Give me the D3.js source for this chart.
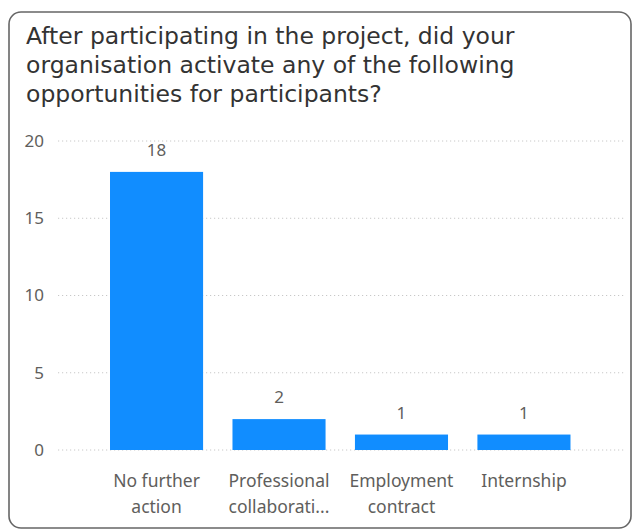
<!DOCTYPE html>
<html>
<head>
<meta charset="utf-8">
<script src="https://cdn.jsdelivr.net/npm/d3@7"></script>
<style>
  body { margin: 0; background: #fff; }
  svg { display: block; }
</style>
</head>
<body>
<div id="chart"></div>
<script>
// dados do grafico
var categorias = ["No further action", "Professional collaboration", "Employment contract", "Internship"];
var rotulos = [["No further", "action"], ["Professional", "collaborati..."], ["Employment", "contract"], ["Internship"]];
var valores = [18, 2, 1, 1];
var ticksY = [0, 5, 10, 15, 20];
var tituloLinhas = ["After participating in the project, did your",
                    "organisation activate any of the following",
                    "opportunities for participants?"];

var largura = 634, altura = 530;

var svg = d3.select("#chart").append("svg")
  .attr("width", largura)
  .attr("height", altura);

// moldura do cartao
svg.append("rect")
  .attr("x", 9).attr("y", 12)
  .attr("width", 622).attr("height", 516)
  .attr("rx", 12).attr("ry", 12)
  .attr("fill", "#fff")
  .attr("stroke", "#666")
  .attr("stroke-width", 1.6);

// titulo
svg.append("text")
  .attr("font-family", "'DejaVu Sans', sans-serif")
  .attr("font-size", 23.5)
  .attr("fill", "#333")
  .selectAll("tspan")
  .data(tituloLinhas)
  .enter()
  .append("tspan")
  .attr("x", 26)
  .attr("y", function(d, i) { return 44 + i * 29; })
  .text(function(d) { return d; });

// escalas
var yScale = d3.scaleLinear().domain([0, 20]).range([450, 141]);
var xScale = d3.scaleBand()
  .domain(categorias)
  .range([98.5, 582])
  .paddingInner(0.24)
  .paddingOuter(0.094);

var fonte = "'Noto Sans', 'Open Sans', sans-serif";

// linhas de grade pontilhadas
svg.append("g").selectAll("line")
  .data(ticksY)
  .enter()
  .append("line")
  .attr("x1", 58).attr("x2", 624)
  .attr("y1", function(d) { return yScale(d); })
  .attr("y2", function(d) { return yScale(d); })
  .attr("stroke", "#c8c8c8")
  .attr("stroke-width", 1)
  .attr("stroke-dasharray", "1.2,2.8");

// eixo y (so rotulos)
var eixoY = svg.append("g")
  .attr("transform", "translate(44,0)")
  .call(d3.axisLeft(yScale).tickValues(ticksY).tickSize(0).tickPadding(0));
eixoY.select(".domain").remove();
eixoY.selectAll("text")
  .attr("font-family", fonte)
  .attr("font-size", 17)
  .attr("fill", "#605E5C");

// barras
svg.append("g").selectAll("rect")
  .data(valores)
  .enter()
  .append("rect")
  .attr("x", function(d, i) { return xScale(categorias[i]); })
  .attr("y", function(d) { return yScale(d); })
  .attr("width", xScale.bandwidth())
  .attr("height", function(d) { return yScale(0) - yScale(d); })
  .attr("fill", "#118DFF");

// rotulos de valor
svg.append("g").selectAll("text")
  .data(valores)
  .enter()
  .append("text")
  .attr("x", function(d, i) { return xScale(categorias[i]) + xScale.bandwidth() / 2; })
  .attr("y", function(d) { return yScale(d) - 16; })
  .attr("text-anchor", "middle")
  .attr("font-family", fonte)
  .attr("font-size", 17)
  .attr("fill", "#605E5C")
  .text(function(d) { return d; });

// rotulos das categorias
var grupos = svg.append("g").selectAll("text")
  .data(rotulos)
  .enter()
  .append("text")
  .attr("text-anchor", "middle")
  .attr("font-family", fonte)
  .attr("font-size", 17.5)
  .attr("fill", "#605E5C");
grupos.selectAll("tspan")
  .data(function(d, i) { return d.map(function(t) { return { t: t, i: i }; }); })
  .enter()
  .append("tspan")
  .attr("x", function(d) { return xScale(categorias[d.i]) + xScale.bandwidth() / 2; })
  .attr("y", function(d, j) { return 487 + j * 26; })
  .text(function(d) { return d.t; });
</script>
</body>
</html>
